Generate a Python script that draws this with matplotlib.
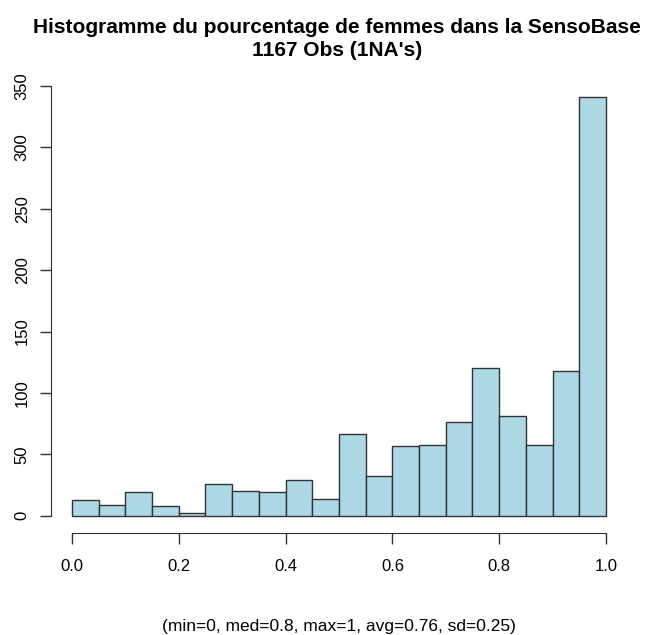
import numpy as np
import matplotlib.pyplot as plt

plt.rcParams['font.family'] = ['Liberation Sans', 'DejaVu Sans']

# bornes des classes (pas de 0.05) et effectifs lus sur l'histogramme
bin_edges = np.round(np.arange(0, 1.0001, 0.05), 2)
counts = [13, 9, 19, 8, 2, 26, 20, 19, 29, 14,
          67, 32, 57, 58, 76, 120, 81, 58, 118, 341]
x_ticks = [0.0, 0.2, 0.4, 0.6, 0.8, 1.0]
x_ticklabels = ["0.0", "0.2", "0.4", "0.6", "0.8", "1.0"]
y_ticks = [0, 50, 100, 150, 200, 250, 300, 350]

titre = "Histogramme du pourcentage de femmes dans la SensoBase\n1167 Obs (1NA's)"
sous_titre = "(min=0, med=0.8, max=1, avg=0.76, sd=0.25)"

fig = plt.figure(figsize=(6.52, 6.35), dpi=100)
ax = fig.add_axes([0.0776, 0.1614, 0.8846, 0.712])

ax.hist(bin_edges[:-1], bins=bin_edges, weights=counts,
        color="#ADD8E6", edgecolor="#333333", linewidth=1.0)

# limites style R (extension de 4%)
ax.set_xlim(-0.04, 1.04)
ax.set_ylim(-0.04 * max(counts), 1.04 * max(counts))

for s in ["top", "right"]:
    ax.spines[s].set_visible(False)
ax.spines["left"].set_bounds(0, 350)
ax.spines["bottom"].set_bounds(0, 1)
ax.spines["left"].set_color("#333333")
ax.spines["bottom"].set_color("#333333")

ax.set_xticks(x_ticks)
ax.set_xticklabels(x_ticklabels, fontsize=12)
ax.set_yticks(y_ticks)
ax.set_yticklabels([str(v) for v in y_ticks], fontsize=12, rotation=90, va="center")
ax.tick_params(axis="both", length=8, width=1, color="#333333")
ax.tick_params(axis="x", pad=11)
ax.tick_params(axis="y", pad=7)

fig.text(0.517, 0.971, titre, ha="center", va="top", fontsize=15,
         fontweight="bold", linespacing=1.25)
fig.text(0.52, 0.013, sous_titre, ha="center", va="center", fontsize=12.5)

fig.savefig("out.png", dpi=100)
